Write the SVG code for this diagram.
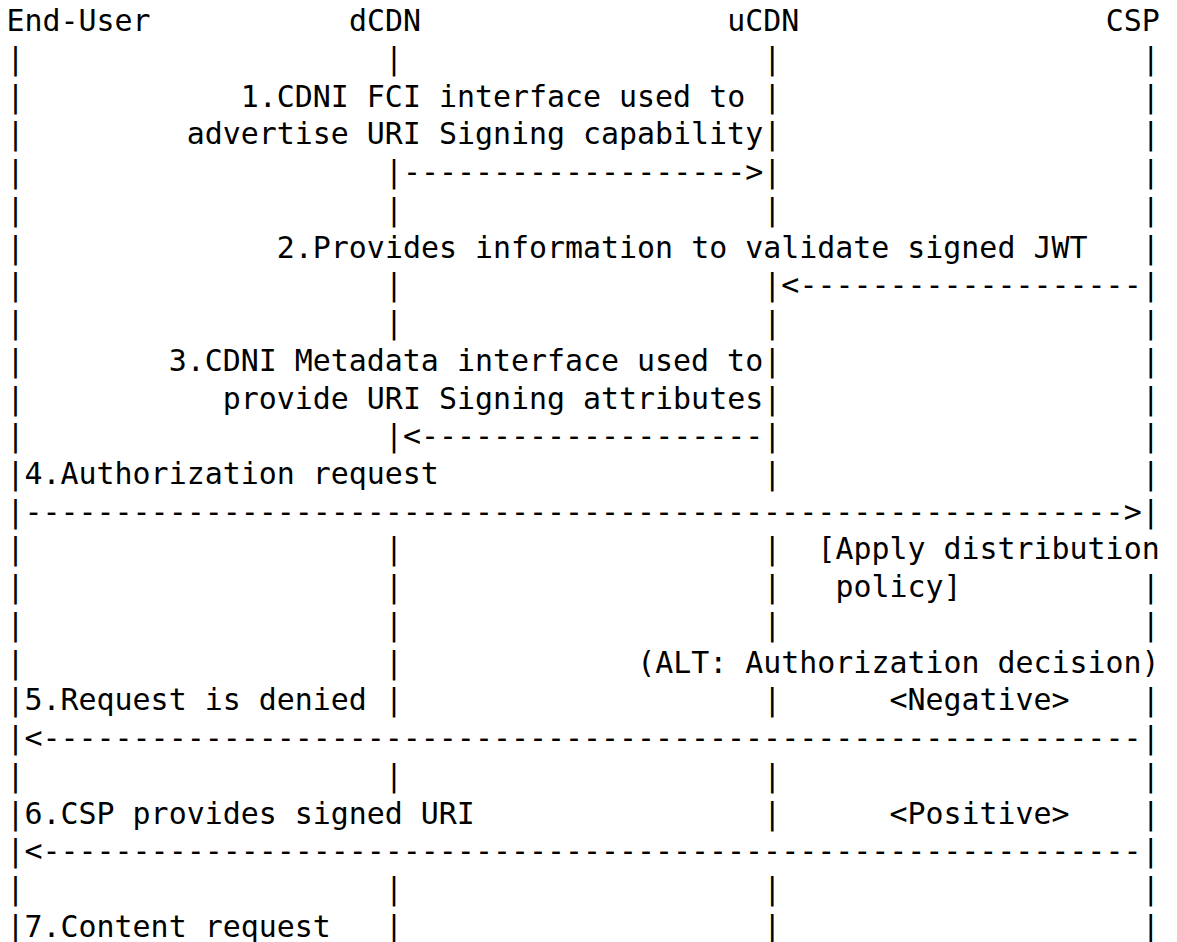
<svg xmlns="http://www.w3.org/2000/svg" width="1177" height="942" viewBox="0 0 1177 942">
<style>
text { font-family: "DejaVu Sans Mono", "Liberation Mono", monospace; font-size: 29.93px; fill: #000; white-space: pre; }
</style>
<rect x="0" y="0" width="1177" height="942" fill="#fff"/>
<g id="participants">
  <g id="end-user"><text x="6.5" y="31.2">End-User</text></g>
  <g id="dcdn"><text x="348.88" y="31.2">dCDN</text></g>
  <g id="ucdn"><text x="727.3" y="31.2">uCDN</text></g>
  <g id="csp"><text x="1105.72" y="31.2">CSP</text></g>
</g>
<g id="lifelines">
  <text id="lifeline-end-user"><tspan x="6.5" y="68.9">|</tspan><tspan x="6.5" y="106.7">|</tspan><tspan x="6.5" y="144.4">|</tspan><tspan x="6.5" y="182.1">|</tspan><tspan x="6.5" y="219.9">|</tspan><tspan x="6.5" y="257.6">|</tspan><tspan x="6.5" y="295.3">|</tspan><tspan x="6.5" y="333">|</tspan><tspan x="6.5" y="370.8">|</tspan><tspan x="6.5" y="408.5">|</tspan><tspan x="6.5" y="446.2">|</tspan><tspan x="6.5" y="484">|</tspan><tspan x="6.5" y="521.7">|</tspan><tspan x="6.5" y="559.4">|</tspan><tspan x="6.5" y="597.2">|</tspan><tspan x="6.5" y="634.9">|</tspan><tspan x="6.5" y="672.6">|</tspan><tspan x="6.5" y="710.3">|</tspan><tspan x="6.5" y="748.1">|</tspan><tspan x="6.5" y="785.8">|</tspan><tspan x="6.5" y="823.5">|</tspan><tspan x="6.5" y="861.3">|</tspan><tspan x="6.5" y="899">|</tspan><tspan x="6.5" y="936.7">|</tspan></text>
  <text id="lifeline-dcdn"><tspan x="384.92" y="68.9">|</tspan><tspan x="384.92" y="182.1">|</tspan><tspan x="384.92" y="219.9">|</tspan><tspan x="384.92" y="295.3">|</tspan><tspan x="384.92" y="333">|</tspan><tspan x="384.92" y="446.2">|</tspan><tspan x="384.92" y="559.4">|</tspan><tspan x="384.92" y="597.2">|</tspan><tspan x="384.92" y="634.9">|</tspan><tspan x="384.92" y="672.6">|</tspan><tspan x="384.92" y="710.3">|</tspan><tspan x="384.92" y="785.8">|</tspan><tspan x="384.92" y="899">|</tspan><tspan x="384.92" y="936.7">|</tspan></text>
  <text id="lifeline-ucdn"><tspan x="763.34" y="68.9">|</tspan><tspan x="763.34" y="106.7">|</tspan><tspan x="763.34" y="144.4">|</tspan><tspan x="763.34" y="182.1">|</tspan><tspan x="763.34" y="219.9">|</tspan><tspan x="763.34" y="295.3">|</tspan><tspan x="763.34" y="333">|</tspan><tspan x="763.34" y="370.8">|</tspan><tspan x="763.34" y="408.5">|</tspan><tspan x="763.34" y="446.2">|</tspan><tspan x="763.34" y="484">|</tspan><tspan x="763.34" y="559.4">|</tspan><tspan x="763.34" y="597.2">|</tspan><tspan x="763.34" y="634.9">|</tspan><tspan x="763.34" y="710.3">|</tspan><tspan x="763.34" y="785.8">|</tspan><tspan x="763.34" y="823.5">|</tspan><tspan x="763.34" y="899">|</tspan><tspan x="763.34" y="936.7">|</tspan></text>
  <text id="lifeline-csp"><tspan x="1141.76" y="68.9">|</tspan><tspan x="1141.76" y="106.7">|</tspan><tspan x="1141.76" y="144.4">|</tspan><tspan x="1141.76" y="182.1">|</tspan><tspan x="1141.76" y="219.9">|</tspan><tspan x="1141.76" y="257.6">|</tspan><tspan x="1141.76" y="295.3">|</tspan><tspan x="1141.76" y="333">|</tspan><tspan x="1141.76" y="370.8">|</tspan><tspan x="1141.76" y="408.5">|</tspan><tspan x="1141.76" y="446.2">|</tspan><tspan x="1141.76" y="484">|</tspan><tspan x="1141.76" y="521.7">|</tspan><tspan x="1141.76" y="597.2">|</tspan><tspan x="1141.76" y="634.9">|</tspan><tspan x="1141.76" y="710.3">|</tspan><tspan x="1141.76" y="748.1">|</tspan><tspan x="1141.76" y="785.8">|</tspan><tspan x="1141.76" y="823.5">|</tspan><tspan x="1141.76" y="861.3">|</tspan><tspan x="1141.76" y="899">|</tspan><tspan x="1141.76" y="936.7">|</tspan></text>
</g>
<g id="connectors">
  <g id="msg1">
    <text x="240.76" y="106.7">1.CDNI FCI interface used to</text>
    <text x="186.7" y="144.4">advertise URI Signing capability</text>
    <text x="402.94" y="182.1">-------------------</text>
    <text x="745.32" y="182.1">&gt;</text>
  </g>
  <g id="msg2">
    <text x="276.8" y="257.6">2.Provides information to validate signed JWT</text>
    <text x="781.36" y="295.3">&lt;</text>
    <text x="799.38" y="295.3">-------------------</text>
  </g>
  <g id="msg3">
    <text x="168.68" y="370.8">3.CDNI Metadata interface used to</text>
    <text x="222.74" y="408.5">provide URI Signing attributes</text>
    <text x="402.94" y="446.2">&lt;</text>
    <text x="420.96" y="446.2">-------------------</text>
  </g>
  <g id="msg4">
    <text x="24.52" y="484">4.Authorization request</text>
    <text x="24.52" y="521.7">-------------------------------------------------------------</text>
    <text x="1123.74" y="521.7">&gt;</text>
  </g>
  <g id="note-policy">
    <text x="817.4" y="559.4">[Apply distribution</text>
    <text x="835.42" y="597.2">policy]</text>
  </g>
  <g id="alt">
    <text x="637.2" y="672.6">(ALT: Authorization decision)</text>
    <text x="889.48" y="710.3">&lt;Negative&gt;</text>
    <text x="889.48" y="823.5">&lt;Positive&gt;</text>
  </g>
  <g id="msg5">
    <text x="24.52" y="710.3">5.Request is denied</text>
    <text x="24.52" y="748.1">&lt;</text>
    <text x="42.54" y="748.1">-------------------------------------------------------------</text>
  </g>
  <g id="msg6">
    <text x="24.52" y="823.5">6.CSP provides signed URI</text>
    <text x="24.52" y="861.3">&lt;</text>
    <text x="42.54" y="861.3">-------------------------------------------------------------</text>
  </g>
  <g id="msg7">
    <text x="24.52" y="936.7">7.Content request</text>
  </g>
</g>
</svg>
